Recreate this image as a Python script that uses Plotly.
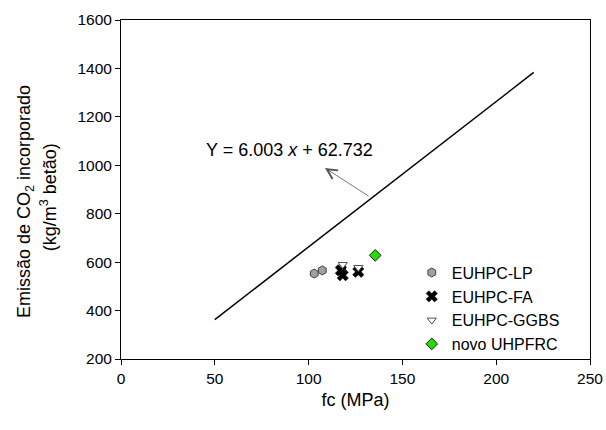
import plotly.graph_objects as go

# Data
lp_fc = [103.0, 107.3, 117.6]
lp_co2 = [553, 566, 576]
fa_fc = [118.2, 117.2, 126.5]
fa_co2 = [546, 566, 560]
ggbs_fc = [118.2, 126.5]
ggbs_co2 = [590, 578]
novo_fc = [135.5]
novo_co2 = [628]

slope = 6.003
intercept = 62.732
fit_x = [50, 220]
fit_y = [slope * v + intercept for v in fit_x]

FONT = "Arial, 'Liberation Sans', sans-serif"

fig = go.Figure()
fig.add_trace(go.Scatter(x=fit_x, y=fit_y, mode="lines",
                         line=dict(color="black", width=1.5), showlegend=False))
fig.add_trace(go.Scatter(x=lp_fc, y=lp_co2, mode="markers", name="EUHPC-LP",
                         legendgroup="a",
                         marker=dict(symbol="hexagon", size=9, color="#a0a0a0",
                                     line=dict(color="#404040", width=1))))
fig.add_trace(go.Scatter(x=fa_fc, y=fa_co2, mode="markers", name="EUHPC-FA",
                         legendgroup="b",
                         marker=dict(symbol="x", size=10, color="black",
                                     line=dict(color="black", width=0.5))))
fig.add_trace(go.Scatter(x=ggbs_fc, y=ggbs_co2, mode="markers", name="EUHPC-GGBS",
                         legendgroup="c",
                         marker=dict(symbol="triangle-down", size=8, color="white",
                                     line=dict(color="#505050", width=1))))
fig.add_trace(go.Scatter(x=novo_fc, y=novo_co2, mode="markers", name="novo UHPFRC",
                         legendgroup="d",
                         marker=dict(symbol="diamond", size=9, color="#22dd00",
                                     line=dict(color="#202020", width=1))))

fig.add_annotation(x=90, y=1062, xref="x", yref="y",
                   text="Y = 6.003 <i>x</i> + 62.732", showarrow=False,
                   font=dict(family=FONT, size=18, color="black"))
fig.add_annotation(x=108.7, y=989, ax=132.7, ay=869, xref="x", yref="y",
                   axref="x", ayref="y", text="", showarrow=True,
                   arrowhead=5, arrowsize=2.5, arrowwidth=0.8, arrowcolor="#555555")

# Y-axis title (two lines, placed as in the reference)
fig.add_annotation(x=-0.2047, y=0.466, xref="paper", yref="paper",
                   text="Emissão de CO<sub>2</sub> incorporado", textangle=-90,
                   showarrow=False, xanchor="center", yanchor="middle",
                   font=dict(family=FONT, size=18, color="black"))
fig.add_annotation(x=-0.153, y=0.478, xref="paper", yref="paper",
                   text="(kg/m<sup>3</sup> betão)", textangle=-90,
                   showarrow=False, xanchor="center", yanchor="middle",
                   font=dict(family=FONT, size=18, color="black"))

fig.update_layout(
    width=606, height=430,
    margin=dict(l=121, r=16, t=20, b=71, autoexpand=False),
    paper_bgcolor="white", plot_bgcolor="white",
    font=dict(family=FONT, size=15.5, color="black"),
    showlegend=True,
    legend=dict(x=0.62, y=0.305, xanchor="left", yanchor="top",
                font=dict(family=FONT, size=16, color="black"),
                bgcolor="rgba(0,0,0,0)", traceorder="grouped",
                tracegroupgap=0, itemwidth=30),
    xaxis=dict(range=[0, 250], tickvals=[0, 50, 100, 150, 200, 250],
               showgrid=False, zeroline=False, showline=True, mirror=True,
               linecolor="black", linewidth=1, ticks="outside", ticklen=5,
               tickcolor="black",
               title=dict(text="fc (MPa)", font=dict(family=FONT, size=18),
                          standoff=7)),
    yaxis=dict(range=[200, 1600], tickvals=[200, 400, 600, 800, 1000, 1200, 1400, 1600],
               showgrid=False, zeroline=False, showline=True, mirror=True,
               linecolor="black", linewidth=1, ticks="outside", ticklen=5,
               tickcolor="black"),
)

fig.write_html("out.html")
